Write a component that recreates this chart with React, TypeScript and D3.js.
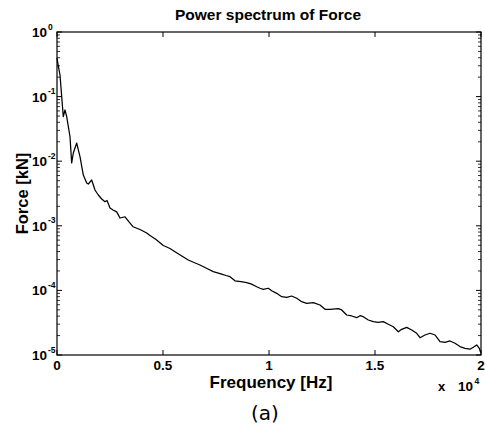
import React from "react";
import * as d3 from "d3";

const freqHz = [
  0, 61, 142, 222, 297, 377, 458, 613, 693, 769, 929, 1085, 1241, 1401, 1476, 1637, 1792, 1948, 2109, 2264, 2359, 2500, 2642, 2816, 2972, 3208, 3396, 3585, 3915, 4231,
  4387, 4670, 5014, 5330, 5566, 5849, 6193, 6462, 6745, 7075, 7373, 7769, 7972, 8160, 8396, 8679, 8948, 9151, 9420, 9576, 9731, 9967, 10127, 10363, 10599, 10835, 11071, 11307,
  11542, 11778, 12090, 12406, 12642, 12878, 13269, 13429, 13665, 13901, 14137, 14292, 14448, 14684, 14920, 15142, 15392, 15627, 15863, 16099, 16259, 16495, 16731, 16967, 17122, 17358, 17594, 17830, 18066, 18302, 18538, 18774, 19009, 19245, 19481, 19637, 19797, 19920, 19986,
];
const forceKN = [
  0.396, 0.298, 0.216, 0.0996, 0.0489, 0.062, 0.0489, 0.0239, 0.00938, 0.0134, 0.0191, 0.01175, 0.00611, 0.0046, 0.00444, 0.00512, 0.00358, 0.003, 0.0026, 0.00236, 0.00247, 0.00189, 0.00176, 0.00164, 0.00132, 0.00138, 0.00115, 0.000968, 0.000877, 0.000774,
  0.000708, 0.000614, 0.000496, 0.000446, 0.000397, 0.000347, 0.000296, 0.00027, 0.000247, 0.000218, 0.000195, 0.000179, 0.00017, 0.000163, 0.000141, 0.000137, 0.000132, 0.000126, 0.000114, 0.000108, 0.000104, 0.000108, 9.89e-5, 9.01e-5, 7.98e-5, 7.82e-5, 8.19e-5, 7.55e-5,
  6.68e-5, 6.31e-5, 6.45e-5, 5.94e-5, 5.1e-5, 5.1e-5, 5.21e-5, 4.98e-5, 4.16e-5, 4.02e-5, 3.78e-5, 4.06e-5, 3.92e-5, 3.48e-5, 3.28e-5, 3.21e-5, 3.28e-5, 2.99e-5, 2.74e-5, 2.29e-5, 2.5e-5, 2.68e-5, 2.44e-5, 2.17e-5, 1.85e-5, 2.04e-5, 2.17e-5, 2.04e-5, 1.61e-5, 1.57e-5, 1.65e-5, 1.52e-5, 1.35e-5, 1.27e-5, 1.23e-5, 1.32e-5, 1.43e-5, 1.27e-5, 1.09e-5,
];

const xTicks = [0, 5000, 10000, 15000, 20000];
const xTickLabels = ["0", "0.5", "1", "1.5", "2"];
const yExponents = [0, -1, -2, -3, -4, -5];

const title = "Power spectrum of Force";
const xLabel = "Frequency [Hz]";
const yLabel = "Force [kN]";
const caption = "(a)";

export default function App() {
  const W = 485, H = 429;
  const L = 57, R = 481, T = 32, B = 355;
  const x = d3.scaleLinear().domain([0, 20000]).range([L, R]);
  const y = d3.scaleLog().domain([1e-5, 1]).range([B, T]);
  const pts = freqHz.map((f, i) => [f, forceKN[i]] as [number, number]);
  const line = d3.line<[number, number]>().x(d => x(d[0])).y(d => y(d[1]));
  const font = "'Liberation Sans', Arial, sans-serif";
  const minor: number[] = [];
  for (let e = -5; e < 0; e++) for (let k = 2; k <= 9; k++) minor.push(k * Math.pow(10, e));

  return (
    <svg width={W} height={H} style={{ position: "absolute", left: 0, top: 0, background: "#fff" }} fontFamily={font}>
      <rect x={0} y={0} width={W} height={H} fill="#fff" />
      <rect x={L} y={T} width={R - L} height={B - T} fill="none" stroke="#000" strokeWidth={1.2} />
      {xTicks.map((t, i) => (
        <g key={"xt" + i}>
          <line x1={x(t)} x2={x(t)} y1={B} y2={B - 5} stroke="#000" strokeWidth={1} />
          <line x1={x(t)} x2={x(t)} y1={T} y2={T + 5} stroke="#000" strokeWidth={1} />
          <text x={x(t)} y={370} fontSize={13.5} fontWeight="bold" textAnchor="middle">{xTickLabels[i]}</text>
        </g>
      ))}
      {yExponents.map((e, i) => (
        <g key={"yt" + i}>
          <line x1={L} x2={L + 5} y1={y(Math.pow(10, e))} y2={y(Math.pow(10, e))} stroke="#000" strokeWidth={1} />
          <line x1={R} x2={R - 5} y1={y(Math.pow(10, e))} y2={y(Math.pow(10, e))} stroke="#000" strokeWidth={1} />
          <text x={47} y={y(Math.pow(10, e)) + 5} fontSize={13.5} fontWeight="bold" textAnchor="end">10</text>
          <text x={48} y={y(Math.pow(10, e)) - 2.5} fontSize={8.5} fontWeight="bold" textAnchor="start">{String(e)}</text>
        </g>
      ))}
      {minor.map((m, i) => (
        <g key={"ym" + i}>
          <line x1={L} x2={L + 3} y1={y(m)} y2={y(m)} stroke="#000" strokeWidth={0.8} />
          <line x1={R} x2={R - 3} y1={y(m)} y2={y(m)} stroke="#000" strokeWidth={0.8} />
        </g>
      ))}
      <path d={line(pts) || ""} fill="none" stroke="#000" strokeWidth={1.25} strokeLinejoin="round" />
      <text x={268} y={20} fontSize={15.5} fontWeight="bold" textAnchor="middle">{title}</text>
      <text x={271} y={388} fontSize={17} fontWeight="bold" textAnchor="middle">{xLabel}</text>
      <text transform={`translate(28,${(T + B) / 2}) rotate(-90)`} fontSize={16.5} fontWeight="bold" textAnchor="middle">{yLabel}</text>
      <text x={438} y={391} fontSize={13} fontWeight="bold">x</text>
      <text x={473} y={391} fontSize={13.5} fontWeight="bold" textAnchor="end">10</text>
      <text x={474.5} y={384} fontSize={8.5} fontWeight="bold">4</text>
      <text x={265} y={420} fontSize={20} textAnchor="middle" fontFamily="'DejaVu Sans', sans-serif">{caption}</text>
    </svg>
  );
}
